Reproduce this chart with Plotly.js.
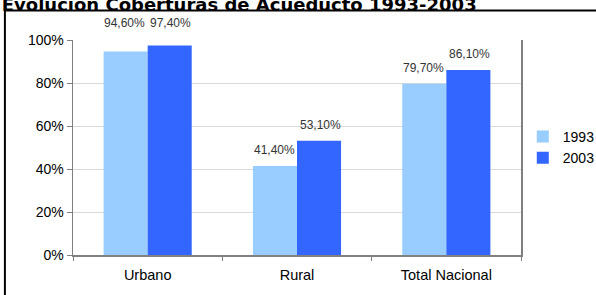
<!DOCTYPE html>
<html><head><meta charset="utf-8">
<script src="https://cdn.plot.ly/plotly-3.0.1.min.js"></script>
<style>html,body{margin:0;padding:0;background:#fff}#c{width:596px;height:295px}</style>
</head><body><div id="c"></div>
<script>
const categories = ["Urbano", "Rural", "Total Nacional"];
const years = ["1993", "2003"];
const values1993 = [0.946, 0.414, 0.797];
const values2003 = [0.974, 0.531, 0.861];
const colors = ["#99CCFF", "#3366FF"];
const titleText = "Evolución Coberturas de Acueducto 1993-2003";

const series = [values1993, values2003];
const fmt = v => (v * 100).toFixed(2).replace('.', ',') + '%';

const traces = series.map((vals, i) => ({
  type: 'bar', name: years[i], x: categories, y: vals,
  marker: {color: colors[i], line: {width: 0}},
  hoverinfo: 'skip'
}));

const annotations = [];
series.forEach((vals, i) => {
  vals.forEach((v, j) => {
    annotations.push({
      x: categories[j], y: v > 0.9 ? 1.08 : v + 0.075, xref: 'x', yref: 'paper',
      text: fmt(v), showarrow: false, xshift: i === 0 ? -23 : 23,
      yanchor: 'middle', font: {family: 'Liberation Sans, Arial', size: 12, color: '#333'}
    });
  });
});

const layout = {
  width: 596, height: 295,
  margin: {l: 73, r: 75, t: 40, b: 40, autoexpand: false},
  paper_bgcolor: '#fff', plot_bgcolor: '#fff',
  title: {text: '<b>' + titleText + '</b>', x: 0.003, xanchor: 'left', xref: 'container',
          y: 0.985, yref: 'container', yanchor: 'middle', pad: {t: 0, b: 0, l: 0},
          font: {family: 'DejaVu Sans', size: 18, color: '#000'}},
  barmode: 'group', bargap: 0.41, bargroupgap: 0,
  showlegend: true,
  legend: {x: 1.004, y: 0.50, xanchor: 'left', yanchor: 'middle', tracegroupgap: 0,
           font: {family: 'Liberation Sans, Arial', size: 14, color: '#000'},
           itemwidth: 30, bgcolor: 'rgba(0,0,0,0)'},
  xaxis: {type: 'category', showline: true, linecolor: '#808080', linewidth: 1.5, mirror: false,
          ticks: 'outside', tickson: 'boundaries', ticklen: 4, tickcolor: '#808080',
          ticklabelstandoff: 6,
          tickfont: {family: 'Liberation Sans, Arial', size: 14.5, color: '#000'}, showgrid: false},
  yaxis: {range: [0, 1], tickvals: [0, 0.2, 0.4, 0.6, 0.8, 1], tickformat: '.0%',
          showline: true, linecolor: '#808080', linewidth: 1.5, mirror: true,
          ticks: 'outside', ticklen: 5, tickcolor: '#808080',
          gridcolor: '#d9d9d9', gridwidth: 1, zeroline: false,
          tickfont: {family: 'Liberation Sans, Arial', size: 14, color: '#000'}},
  annotations: annotations,
  shapes: [{type: 'rect', xref: 'paper', yref: 'paper',
            x0: -0.152, x1: 1.175, y0: -0.2, y1: 1.137,
            line: {color: '#000', width: 2}, fillcolor: 'rgba(0,0,0,0)', layer: 'above'}]
};

Plotly.newPlot('c', traces, layout, {staticPlot: true});
</script></body></html>
